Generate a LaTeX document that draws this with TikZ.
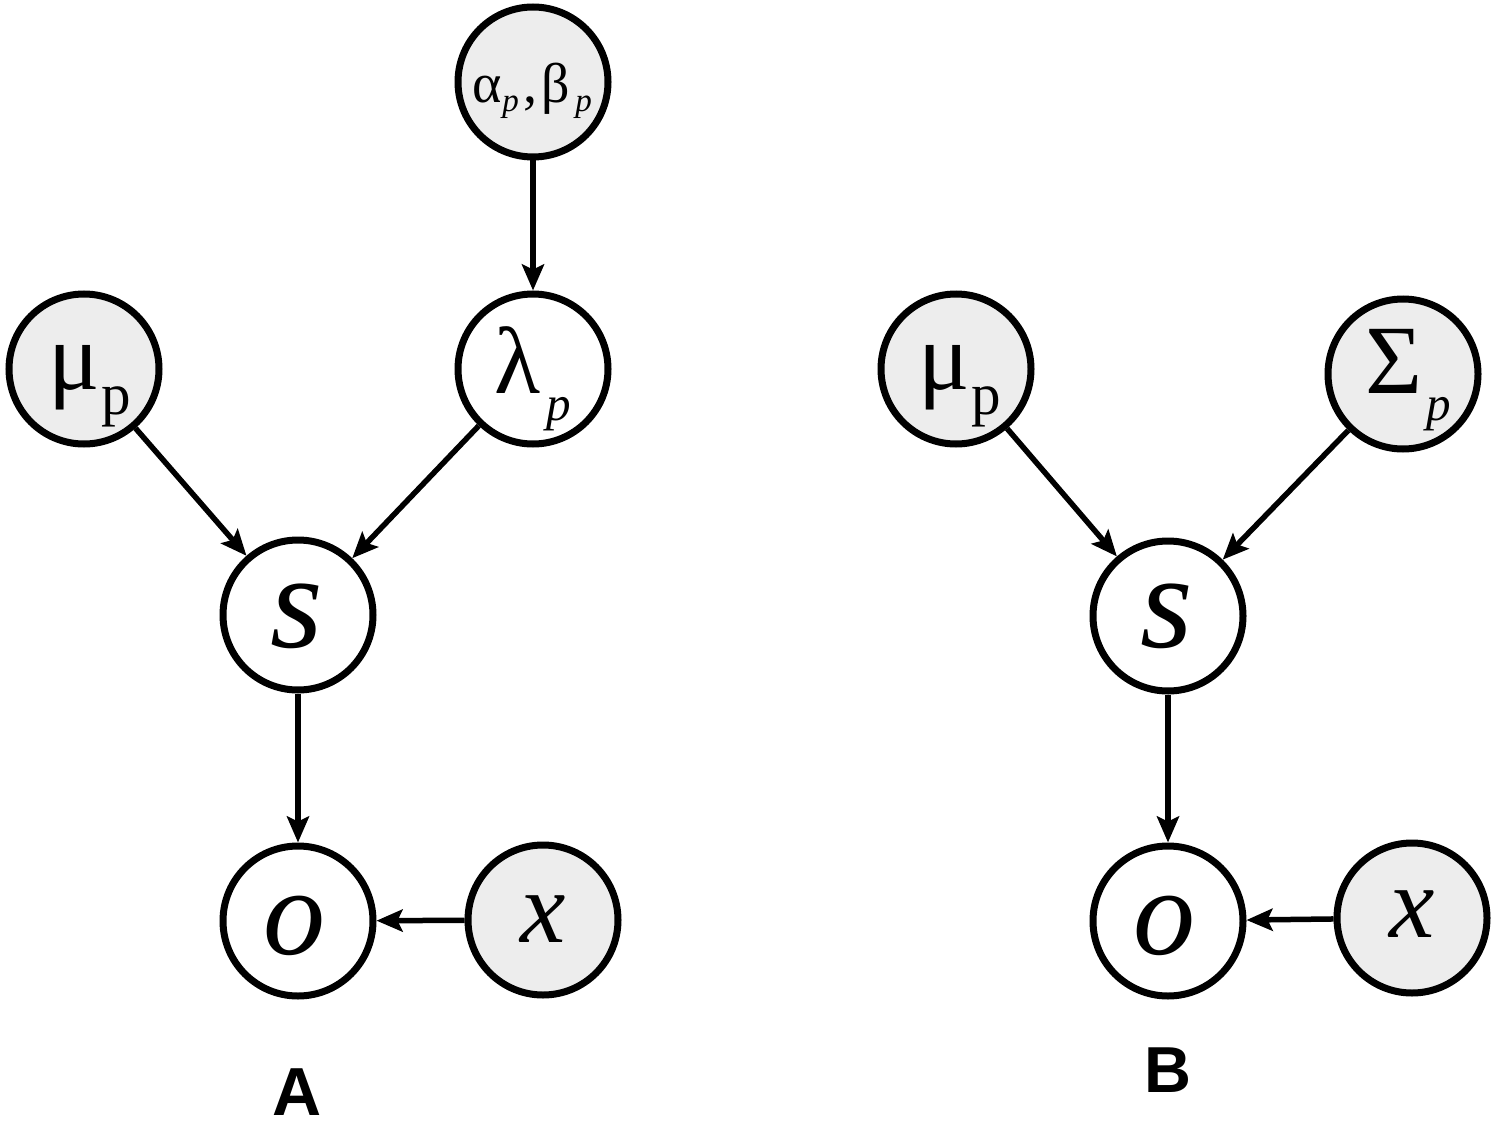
\documentclass[tikz,border=0pt]{standalone}
\usepackage{fontspec}
\setmainfont{Liberation Serif}
\newfontfamily\panelfont{Liberation Sans}
\usetikzlibrary{arrows.meta}
\definecolor{nodefill}{RGB}{237,237,237}
\begin{document}
\begin{tikzpicture}[x=1pt,y=-1pt,
  var/.style={circle, draw, line width=7pt, minimum size=150pt, inner sep=0pt},
  obs/.style={var, fill=nodefill},
  lbl/.style={inner sep=0pt, outer sep=0pt},
  edge/.style={line width=5.5pt, -{Stealth[length=26pt,width=22pt,inset=5pt]}}]
\useasboundingbox (0,0) rectangle (1500,1129);
% ---------- Panel A ----------
\node[obs] (abA) at (533,82) {};
\node[obs] (muA) at (84,369) {};
\node[var] (lamA) at (533,369) {};
\node[var] (sA) at (298,615) {};
\node[var] (oA) at (298,921) {};
\node[obs] (xA) at (543,920) {};
\node[lbl, anchor=base west] (abAt) at (472,103) {\fontsize{56}{56}\selectfont α\kern1pt\raisebox{-9pt}{\fontsize{33}{33}\selectfont\itshape p}\kern5pt,\kern4ptβ\kern5pt\raisebox{-9pt}{\fontsize{33}{33}\selectfont\itshape p}};
\node[lbl, anchor=base west] (muAt) at (48,389) {\fontsize{96}{96}\selectfont μ\kern2pt\raisebox{-25pt}{\fontsize{59}{59}\selectfont p}};
\node[lbl, anchor=base west] (lamAt) at (494,393) {\fontsize{95}{95}\selectfont λ\kern6pt\raisebox{-27pt}{\fontsize{49}{49}\selectfont\itshape p}};
\node[lbl, anchor=base] (sAt) at (297,647) {\fontsize{135}{135}\selectfont\itshape s};
\node[lbl, anchor=base] (oAt) at (294,954) {\fontsize{124}{124}\selectfont\itshape o};
\node[lbl, anchor=base] (xAt) at (543,942) {\fontsize{102}{102}\selectfont\itshape x};
\node[lbl, anchor=base] (capA) at (297,1115) {\panelfont\bfseries\fontsize{68}{68}\selectfont A};
\draw[edge] (abA) -- (lamA);
\draw[edge] (muA) -- (sA);
\draw[edge] (lamA) -- (sA);
\draw[edge] (sA) -- (oA);
\draw[edge] (xA) -- (oA);
% ---------- Panel B ----------
\node[obs] (muB) at (956,369) {};
\node[obs] (sigB) at (1403,374) {};
\node[var] (sB) at (1168,616) {};
\node[var] (oB) at (1168,921) {};
\node[obs] (xB) at (1412,918) {};
\node[lbl, anchor=base west] (muBt) at (918,389) {\fontsize{96}{96}\selectfont μ\kern2pt\raisebox{-25pt}{\fontsize{59}{59}\selectfont p}};
\node[lbl, anchor=base west] (sigBt) at (1365,393) {\fontsize{98}{98}\selectfont Σ\kern4pt\raisebox{-27pt}{\fontsize{49}{49}\selectfont\itshape p}};
\node[lbl, anchor=base] (sBt) at (1167,647) {\fontsize{135}{135}\selectfont\itshape s};
\node[lbl, anchor=base] (oBt) at (1164,954) {\fontsize{124}{124}\selectfont\itshape o};
\node[lbl, anchor=base] (xBt) at (1412,937) {\fontsize{102}{102}\selectfont\itshape x};
\node[lbl, anchor=base] (capB) at (1168,1092) {\panelfont\bfseries\fontsize{65}{65}\selectfont B};
\draw[edge] (muB) -- (sB);
\draw[edge] (sigB) -- (sB);
\draw[edge] (sB) -- (oB);
\draw[edge] (xB) -- (oB);
\end{tikzpicture}
\end{document}
